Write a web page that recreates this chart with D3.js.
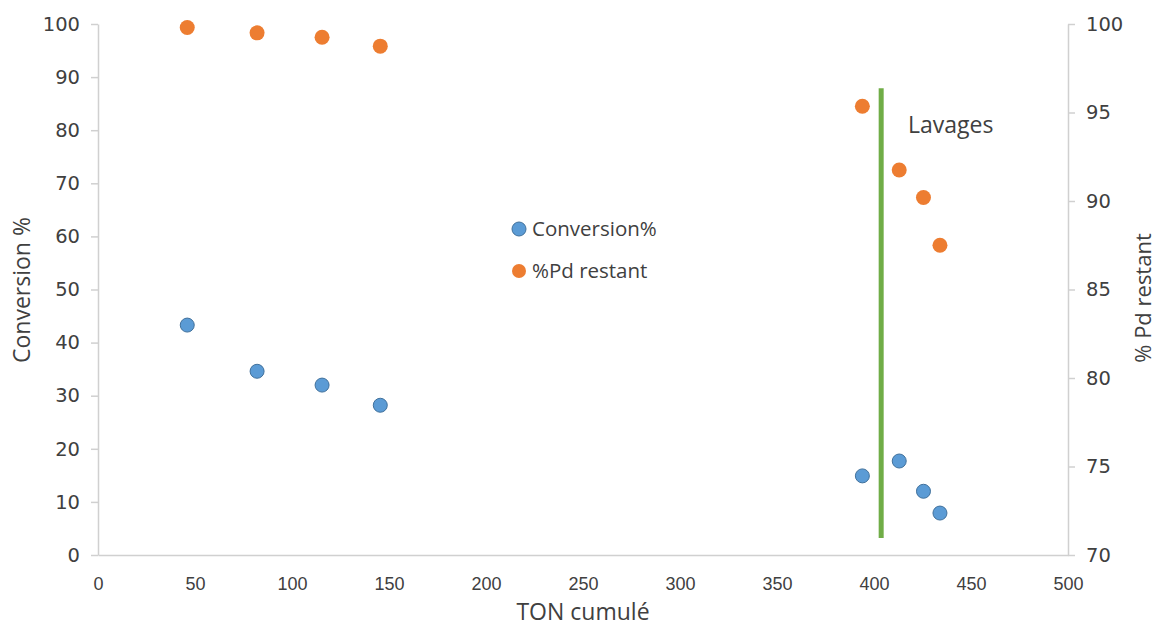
<!DOCTYPE html>
<html><head><meta charset="utf-8">
<script src="https://cdn.jsdelivr.net/npm/d3@7"></script>
<style>body{margin:0;background:#fff}</style>
</head><body>
<svg id="c" width="1157" height="628"></svg>
<script>
const tonConv = [46, 82, 115.5, 145.5, 394, 413, 425.5, 434];
const conversion = [43.3, 34.6, 32.0, 28.2, 14.9, 17.7, 12.0, 7.9];
const tonPd = [46, 82, 115.5, 145.5, 394, 413, 425.5, 434];
const pdRestant = [99.8, 99.5, 99.25, 98.75, 95.35, 91.75, 90.2, 87.5];
const lavagesX = [403.7];
const lavagesY = [3.2, 87.9];
const xTicks = [0,50,100,150,200,250,300,350,400,450,500];
const yLeftTicks = [0,10,20,30,40,50,60,70,80,90,100];
const yRightTicks = [70,75,80,85,90,95,100];

const svg = d3.select('#c');
const L = 98, R = 1068, T = 24, B = 555;
const x = d3.scaleLinear().domain([0,500]).range([L,R]);
const yL = d3.scaleLinear().domain([0,100]).range([B,T]);
const yR = d3.scaleLinear().domain([70,100]).range([B,T]);
const axisColor = '#d0d0d0', textColor = '#404040';

// x axis
const gx = svg.append('g').attr('transform',`translate(0,${B})`)
  .call(d3.axisBottom(x).tickValues(xTicks).tickSize(0).tickPadding(22));
gx.select('.domain').attr('stroke',axisColor).attr('stroke-width',1.5);
gx.selectAll('text').attr('font-family','"Liberation Sans Narrow", "Liberation Sans", sans-serif')
  .attr('font-size',18).attr('fill',textColor);

// left axis
const gl = svg.append('g').attr('transform',`translate(${L},0)`)
  .call(d3.axisLeft(yL).tickValues(yLeftTicks).tickSize(7).tickSizeOuter(0).tickPadding(11));
gl.select('.domain').attr('stroke',axisColor).attr('stroke-width',1.5);
gl.selectAll('line').attr('stroke',axisColor).attr('stroke-width',1.5);
gl.selectAll('text').attr('font-family','"DejaVu Sans", sans-serif').attr('font-size',19.5).attr('fill',textColor);

// right axis
const gr = svg.append('g').attr('transform',`translate(${R},0)`)
  .call(d3.axisRight(yR).tickValues(yRightTicks).tickSize(7).tickSizeOuter(0).tickPadding(11));
gr.select('.domain').attr('stroke',axisColor).attr('stroke-width',1.5);
gr.selectAll('line').attr('stroke',axisColor).attr('stroke-width',1.5);
gr.selectAll('text').attr('font-family','"DejaVu Sans", sans-serif').attr('font-size',19.5).attr('fill',textColor);

// titles
const tf = '"Open Sans", "Liberation Sans", sans-serif';
svg.append('text').attr('x',583).attr('y',620).attr('text-anchor','middle')
  .attr('font-family',tf).attr('font-size',23).attr('fill',textColor).text('TON cumulé');
svg.append('text').attr('transform','translate(30,290) rotate(-90)').attr('text-anchor','middle')
  .attr('font-family',tf).attr('font-size',23).attr('fill',textColor).text('Conversion %');
svg.append('text').attr('transform','translate(1151,298) rotate(-90)').attr('text-anchor','middle')
  .attr('font-family',tf).attr('font-size',22).attr('fill',textColor).text('% Pd restant');

// green line
svg.append('line').attr('x1',x(lavagesX[0])).attr('x2',x(lavagesX[0]))
  .attr('y1',yL(lavagesY[0])).attr('y2',yL(lavagesY[1]))
  .attr('stroke','#70ad47').attr('stroke-width',5);
svg.append('text').attr('x',908).attr('y',133).attr('font-family',tf).attr('font-size',23)
  .attr('fill',textColor).text('Lavages');

// points
svg.append('g').selectAll('circle').data(tonPd.map((t,i)=>[t,pdRestant[i]])).join('circle')
  .attr('cx',d=>x(d[0])).attr('cy',d=>yR(d[1])).attr('r',7.5)
  .attr('fill','#ed7d31');
svg.append('g').selectAll('circle').data(tonConv.map((t,i)=>[t,conversion[i]])).join('circle')
  .attr('cx',d=>x(d[0])).attr('cy',d=>yL(d[1])).attr('r',7)
  .attr('fill','#5b9bd5').attr('stroke','#41719c').attr('stroke-width',1);

// legend
const leg = svg.append('g');
[['Conversion%','#5b9bd5','#41719c',229],['%Pd restant','#ed7d31','none',271]].forEach(([t,f,s,yy])=>{
  leg.append('circle').attr('cx',519).attr('cy',yy).attr('r',7).attr('fill',f).attr('stroke',s);
  leg.append('text').attr('x',532).attr('y',yy+7).attr('font-family',tf).attr('font-size',20.5)
    .attr('fill',textColor).text(t);
});
</script>
</body></html>
